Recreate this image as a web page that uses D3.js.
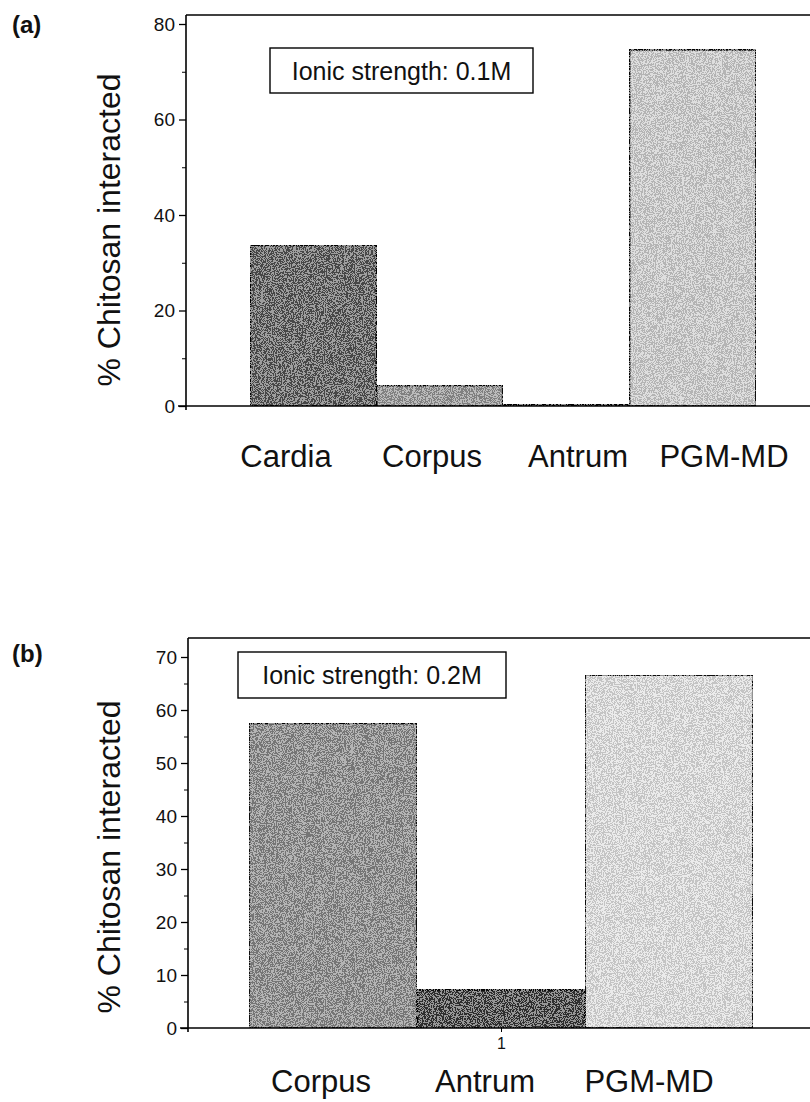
<!DOCTYPE html>
<html><head><meta charset="utf-8">
<script src="https://cdn.jsdelivr.net/npm/d3@7"></script>
<style>
body{margin:0;background:#fff}
text{font-family:"Liberation Sans",Arial,Helvetica,sans-serif;fill:#111}
</style>
</head><body><svg id="c" width="810" height="1102"></svg>
<script>
// ---- data ----
const categoriesA = ["Cardia", "Corpus", "Antrum", "PGM-MD"];
const valuesA = [33.7, 4.3, 0.4, 74.6];
const yTicksA = [0, 20, 40, 60, 80];
const yMinorA = [10, 30, 50, 70];

const categoriesB = ["Corpus", "Antrum", "PGM-MD"];
const valuesB = [57.5, 7.2, 66.6];
const yTicksB = [0, 10, 20, 30, 40, 50, 60, 70];
const yMinorB = [5, 15, 25, 35, 45, 55, 65];
const xTicksB = ["1"];

const yTitle = "% Chitosan interacted";

// ---- layout / style ----
const svg = d3.select("#c");
const defs = svg.append("defs");
const f = defs.append("filter").attr("id","grain").attr("x",0).attr("y",0).attr("width",1).attr("height",1);
f.append("feTurbulence").attr("type","fractalNoise").attr("baseFrequency",1.1).attr("numOctaves",1).attr("seed",3).attr("result","n");
f.append("feColorMatrix").attr("in","n").attr("type","saturate").attr("values",0).attr("result","g");
const ct = f.append("feComponentTransfer").attr("in","g").attr("result","g2");
ct.append("feFuncR").attr("type","discrete").attr("tableValues","0 1");
ct.append("feFuncG").attr("type","discrete").attr("tableValues","0 1");
ct.append("feFuncB").attr("type","discrete").attr("tableValues","0 1");
ct.append("feFuncA").attr("type","linear").attr("slope",0).attr("intercept",0.28);
f.append("feComposite").attr("in","g2").attr("in2","SourceGraphic").attr("operator","atop").attr("result","c");
const fm = f.append("feMerge");
fm.append("feMergeNode").attr("in","SourceGraphic");
fm.append("feMergeNode").attr("in","c");

const panels = [
  {tag:"(a)", tagY:33, cats:categoriesA, vals:valuesA, ticks:yTicksA, minor:yMinorA, yMax:80, yTopPx:24,
   left:186, right:810, top:15, bottom:406, barRange:[250,756], labRange:[286,724], labY:467,
   fills:["#545454","#959595","#333333","#d0d0d0"],
   box:{x:270,y:48,w:263,h:45}, boxText:"Ionic strength: 0.1M", titleY:230, xTicks:[]},
  {tag:"(b)", tagY:662, cats:categoriesB, vals:valuesB, ticks:yTicksB, minor:yMinorB, yMax:70, yTopPx:657,
   left:188, right:810, top:638, bottom:1028, barRange:[249,753], labRange:[321,649], labY:1092,
   fills:["#878787","#383838","#e2e2e2"],
   box:{x:238,y:652,w:268,h:46}, boxText:"Ionic strength: 0.2M", titleY:857, xTicks:xTicksB}
];

panels.forEach(p => {
  const g = svg.append("g");
  const y0 = p.bottom;
  const y = d3.scaleLinear().domain([0, p.yMax]).range([y0, p.yTopPx]);
  const x = d3.scaleBand().domain(p.cats).range(p.barRange).padding(0);
  const xl = d3.scalePoint().domain(p.cats).range(p.labRange);

  // bars
  g.selectAll("rect.bar").data(p.vals).join("rect")
    .attr("class","bar")
    .attr("x",(d,i)=>x(p.cats[i]))
    .attr("y",d=>y(d))
    .attr("width",x.bandwidth())
    .attr("height",d=>y0-y(d))
    .attr("fill",(d,i)=>p.fills[i])
    .attr("filter","url(#grain)")
    .attr("stroke","#000").attr("stroke-width",1.8);

  // frame: top line
  g.append("line").attr("x1",p.left).attr("x2",p.right).attr("y1",p.top).attr("y2",p.top)
    .attr("stroke","#000").attr("stroke-width",1.6);
  // bottom axis line
  g.append("line").attr("x1",p.left-8).attr("x2",p.right).attr("y1",y0).attr("y2",y0)
    .attr("stroke","#000").attr("stroke-width",1.6);

  // y axis
  const ax = d3.axisLeft(y).tickValues(p.ticks).tickSize(7).tickPadding(4).tickFormat(d3.format("d"));
  const ag = g.append("g").attr("transform",`translate(${p.left},0)`).call(ax);
  ag.select(".domain").attr("d",`M0,${p.top}V${y0+4}`).attr("stroke-width",1.6);
  ag.selectAll(".tick line").attr("stroke-width",1.3);
  ag.selectAll(".tick text").style("font-size","19px").attr("fill","#111");
  const mx = d3.axisLeft(y).tickValues(p.minor).tickSize(4).tickFormat("");
  const mg = g.append("g").attr("transform",`translate(${p.left},0)`).call(mx);
  mg.select(".domain").remove();

  // bottom tick "1" (panel b)
  if (p.xTicks.length) {
    const xp = d3.scalePoint().domain(p.xTicks).range([p.barRange[0], p.barRange[1]]).padding(0.5);
    const bx = d3.axisBottom(xp).tickSize(4).tickPadding(6);
    const bg = g.append("g").attr("transform",`translate(0,${y0})`).call(bx);
    bg.select(".domain").remove();
    bg.selectAll(".tick text").style("font-size","16px").attr("fill","#111");
  }

  // category labels
  g.selectAll("text.cat").data(p.cats).join("text").attr("class","cat")
    .attr("x",d=>xl(d)).attr("y",p.labY).attr("text-anchor","middle")
    .style("font-size","31px").text(d=>d);

  // ionic strength box
  g.append("rect").attr("x",p.box.x).attr("y",p.box.y).attr("width",p.box.w).attr("height",p.box.h)
    .attr("fill","#fff").attr("stroke","#000").attr("stroke-width",1.4);
  g.append("text").attr("x",p.box.x+p.box.w/2).attr("y",p.box.y+p.box.h/2+9)
    .attr("text-anchor","middle").style("font-size","25px").text(p.boxText);

  // y title
  g.append("text").attr("transform",`translate(120,${p.titleY}) rotate(-90)`)
    .attr("text-anchor","middle").style("font-size","32px").text(yTitle);

  // panel tag
  g.append("text").attr("x",12).attr("y",p.tagY).style("font-size","24px").style("font-weight","bold").text(p.tag);
});
</script>
</body></html>
